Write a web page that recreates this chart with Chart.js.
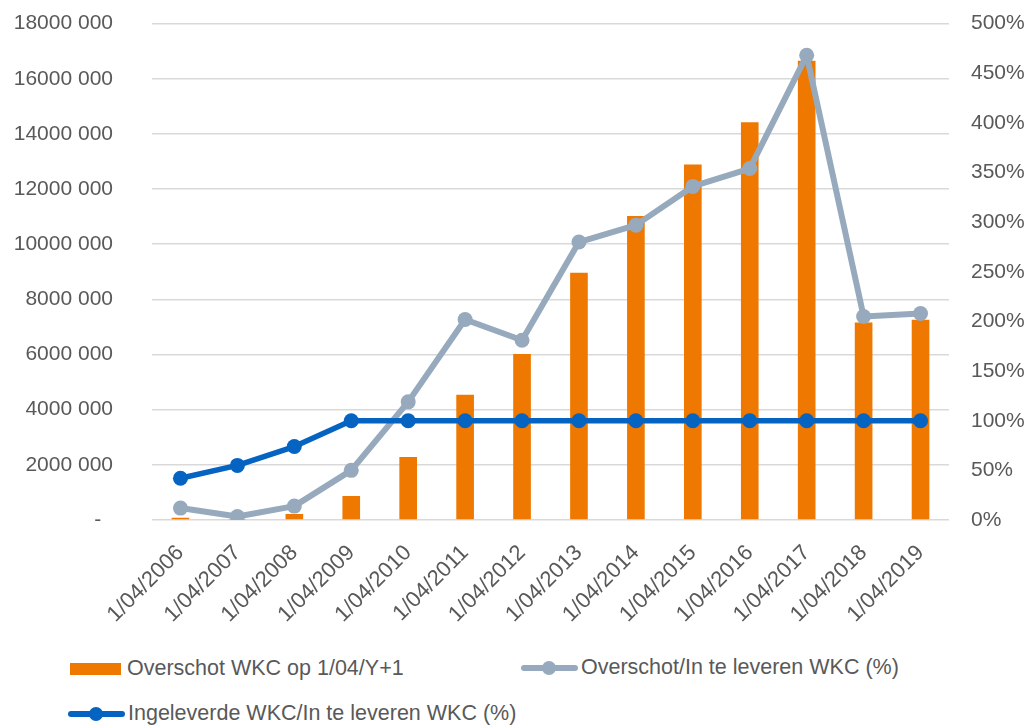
<!DOCTYPE html>
<html>
<head>
<meta charset="utf-8">
<script src="https://cdn.jsdelivr.net/npm/chart.js@4/dist/chart.umd.min.js"></script>
<style>
  html, body { margin: 0; padding: 0; background: #ffffff; }
  #wrap { position: relative; width: 1028px; height: 727px; overflow: hidden; font-family: "Liberation Sans", Arial, sans-serif; color: #595959; }
  #c { position: absolute; left: 0; top: -28px; }
  .lg { position: absolute; display: flex; align-items: center; font-size: 21.5px; white-space: nowrap; line-height: 1; }
  .box { width: 51px; height: 12px; margin-right: 6px; }
  .ln { position: relative; width: 57px; height: 14px; margin-right: 3px; }
  .ln .bar { position: absolute; left: 0; right: 0; top: 4px; height: 6px; border-radius: 3px; }
  .ln .dot { position: absolute; left: 21px; top: 0px; width: 14px; height: 14px; border-radius: 50%; }
</style>
</head>
<body>
<div id="wrap">
  <canvas id="c" width="1028" height="668"></canvas>
  <div class="lg" style="left:70px; top:658px;"><span class="box" style="background:#EE7800"></span><span id="l1"></span></div>
  <div class="lg" style="left:521px; top:657px;"><span class="ln"><span class="bar" style="background:#97AABD"></span><span class="dot" style="background:#97AABD"></span></span><span id="l2"></span></div>
  <div class="lg" style="left:68px; top:703px;"><span class="ln"><span class="bar" style="background:#0563C1"></span><span class="dot" style="background:#0563C1"></span></span><span id="l3"></span></div>
</div>
<script>
const categories = ["1/04/2006","1/04/2007","1/04/2008","1/04/2009","1/04/2010","1/04/2011","1/04/2012","1/04/2013","1/04/2014","1/04/2015","1/04/2016","1/04/2017","1/04/2018","1/04/2019"];
const seriesNames = ["Overschot WKC op 1/04/Y+1", "Overschot/In te leveren WKC (%)", "Ingeleverde WKC/In te leveren WKC (%)"];
const overschotWKC = [80000, 20000, 220000, 870000, 2280000, 4540000, 6020000, 8970000, 11020000, 12890000, 14420000, 16650000, 7160000, 7260000];
const overschotPct = [12, 3.5, 14, 50, 119, 202, 181, 280, 297, 336, 354, 468, 205, 208];
const ingeleverdPct = [42, 55, 74, 100, 100, 100, 100, 100, 100, 100, 100, 100, 100, 100];
const leftTicks = { min: 0, max: 18000000, step: 2000000 };
const rightTicks = { min: 0, max: 500, step: 50 };

document.getElementById('l1').textContent = seriesNames[0];
document.getElementById('l2').textContent = seriesNames[1];
document.getElementById('l3').textContent = seriesNames[2];

const FONT = "'Liberation Sans', Arial, sans-serif";
const TXT = '#595959';
const ORANGE = '#EE7800', GREY = '#97AABD', BLUE = '#0563C1';

function fmtLeft(v) {
  if (v === 0) return '-  ';
  const s = String(Math.round(v));
  return s.slice(0, -3) + ' ' + s.slice(-3);
}

new Chart(document.getElementById('c'), {
  type: 'bar',
  data: {
    labels: categories,
    datasets: [
      { type: 'bar', label: seriesNames[0], data: overschotWKC, backgroundColor: ORANGE, yAxisID: 'y', order: 3,
        categoryPercentage: 1, barPercentage: 0.31 },
      { type: 'line', label: seriesNames[1], data: overschotPct, borderColor: GREY, backgroundColor: GREY, yAxisID: 'y1', order: 2,
        borderWidth: 6, pointRadius: 7.5, pointHoverRadius: 7.5, pointBorderWidth: 0, tension: 0, borderJoinStyle: 'round' },
      { type: 'line', label: seriesNames[2], data: ingeleverdPct, borderColor: BLUE, backgroundColor: BLUE, yAxisID: 'y1', order: 1,
        borderWidth: 5.5, pointRadius: 7.5, pointHoverRadius: 7.5, pointBorderWidth: 0, tension: 0, borderJoinStyle: 'round' }
    ]
  },
  options: {
    responsive: false,
    animation: false,
    layout: { padding: { top: 22, left: 0, right: 0, bottom: 0 } },
    plugins: { legend: { display: false }, tooltip: { enabled: false } },
    scales: {
      x: {
        grid: { display: false },
        border: { display: false },
        ticks: { color: TXT, font: { family: FONT, size: 22 }, minRotation: 45, maxRotation: 45, autoSkip: false, padding: 12 },
        afterFit: (s) => { s.height = 120; }
      },
      y: {
        position: 'left',
        min: leftTicks.min, max: leftTicks.max,
        grid: { color: '#D9D9D9', lineWidth: 1.5, drawTicks: false },
        border: { display: false },
        ticks: { stepSize: leftTicks.step, color: TXT, font: { family: FONT, size: 21 }, padding: 39, callback: fmtLeft },
        afterFit: (s) => { s.width = 152; }
      },
      y1: {
        position: 'right',
        min: rightTicks.min, max: rightTicks.max,
        grid: { display: false, drawTicks: false },
        border: { display: false },
        ticks: { stepSize: rightTicks.step, color: TXT, font: { family: FONT, size: 21 }, padding: 22, callback: (v) => v + '%' },
        afterFit: (s) => { s.width = 79; }
      }
    }
  }
});
</script>
</body>
</html>
